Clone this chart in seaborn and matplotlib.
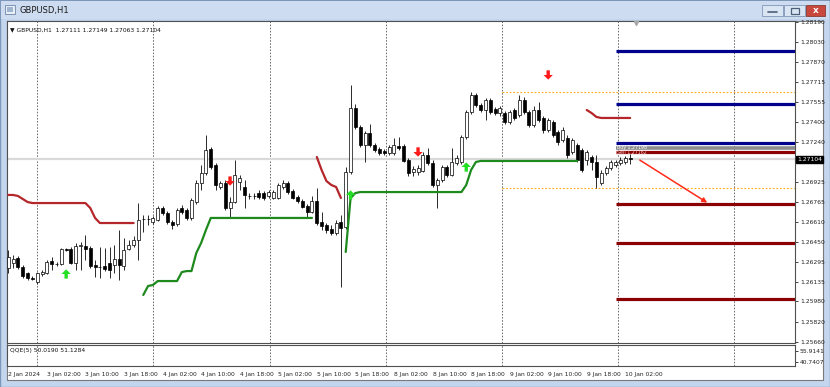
import numpy as np
import pandas as pd
import matplotlib
matplotlib.use("Agg")
import matplotlib.pyplot as plt
import seaborn as sns
from matplotlib.patches import Rectangle
from matplotlib.path import Path
from matplotlib.transforms import blended_transform_factory

# ---------------- data (GBPUSD H1) ----------------
open_ = [1.26244, 1.26284, 1.26323, 1.26252, 1.26205, 1.26165, 1.26133, 1.26197, 1.26205, 1.26299,
         1.26276, 1.26276, 1.26394, 1.26394, 1.26284, 1.26422, 1.26418, 1.26402, 1.26268, 1.26252,
         1.26260, 1.26284, 1.26268, 1.26315, 1.26260, 1.26394, 1.26426, 1.26466, 1.26632, 1.26628,
         1.26608, 1.26624, 1.26719, 1.26679, 1.26608, 1.26592, 1.26719, 1.26703, 1.26640, 1.26766,
         1.26917, 1.26996, 1.27185, 1.27059, 1.26885, 1.26917, 1.26719, 1.26766, 1.26924, 1.26885,
         1.26814, 1.26810, 1.26837, 1.26837, 1.26814, 1.26798, 1.26798, 1.26885, 1.26917, 1.26853,
         1.26806, 1.26774, 1.26735, 1.26687, 1.26774, 1.26608, 1.26584, 1.26553, 1.26521, 1.26608,
         1.26568, 1.27004, 1.27510, 1.27359, 1.27217, 1.27312, 1.27217, 1.27185, 1.27170, 1.27154,
         1.27154, 1.27209, 1.27209, 1.27098, 1.27004, 1.27004, 1.27011, 1.27138, 1.27075, 1.26901,
         1.26940, 1.27043, 1.26980, 1.27075, 1.27083, 1.27280, 1.27478, 1.27613, 1.27533, 1.27494,
         1.27573, 1.27502, 1.27470, 1.27470, 1.27399, 1.27494, 1.27454, 1.27573, 1.27478, 1.27375,
         1.27494, 1.27431, 1.27336, 1.27399, 1.27320, 1.27257, 1.27272, 1.27162, 1.27217, 1.27178,
         1.27098, 1.27122, 1.27083, 1.26917, 1.26996, 1.27035, 1.27059, 1.27075, 1.27083, 1.27111]
high = [1.26387, 1.26347, 1.26339, 1.26268, 1.26212, 1.26181, 1.26212, 1.26228, 1.26307, 1.26331,
        1.26291, 1.26402, 1.26402, 1.26410, 1.26442, 1.26450, 1.26505, 1.26418, 1.26307, 1.26410,
        1.26402, 1.26410, 1.26426, 1.26545, 1.26481, 1.26466, 1.26497, 1.26758, 1.26663, 1.26663,
        1.26655, 1.26735, 1.26735, 1.26695, 1.26624, 1.26719, 1.26742, 1.26719, 1.26798, 1.26940,
        1.27059, 1.27296, 1.27201, 1.27075, 1.26932, 1.26940, 1.26806, 1.27098, 1.26980, 1.26940,
        1.26837, 1.26837, 1.26861, 1.26853, 1.26861, 1.26861, 1.26917, 1.26940, 1.26932, 1.26869,
        1.26822, 1.26790, 1.26750, 1.26814, 1.26877, 1.26687, 1.26600, 1.26584, 1.26624, 1.26663,
        1.27043, 1.27692, 1.27541, 1.27375, 1.27328, 1.27383, 1.27233, 1.27201, 1.27185, 1.27217,
        1.27272, 1.27280, 1.27225, 1.27114, 1.27051, 1.27059, 1.27162, 1.27193, 1.27098, 1.26956,
        1.27059, 1.27059, 1.27193, 1.27138, 1.27296, 1.27494, 1.27636, 1.27628, 1.27549, 1.27589,
        1.27589, 1.27518, 1.27526, 1.27486, 1.27494, 1.27510, 1.27613, 1.27597, 1.27494, 1.27526,
        1.27557, 1.27446, 1.27431, 1.27415, 1.27336, 1.27359, 1.27296, 1.27272, 1.27233, 1.27193,
        1.27178, 1.27138, 1.27138, 1.27019, 1.27051, 1.27098, 1.27098, 1.27122, 1.27130, 1.27149]
low = [1.26205, 1.26244, 1.26236, 1.26165, 1.26149, 1.26149, 1.26118, 1.26181, 1.26197, 1.26228,
       1.26260, 1.26268, 1.26379, 1.26276, 1.26228, 1.26228, 1.26307, 1.26244, 1.26173, 1.26165,
       1.26220, 1.26165, 1.26205, 1.26149, 1.26228, 1.26387, 1.26410, 1.26307, 1.26529, 1.26584,
       1.26592, 1.26616, 1.26663, 1.26592, 1.26553, 1.26576, 1.26671, 1.26624, 1.26624, 1.26750,
       1.26861, 1.26980, 1.27027, 1.26861, 1.26869, 1.26703, 1.26640, 1.26758, 1.26861, 1.26719,
       1.26790, 1.26790, 1.26790, 1.26782, 1.26798, 1.26790, 1.26790, 1.26869, 1.26830, 1.26790,
       1.26758, 1.26719, 1.26640, 1.26679, 1.26584, 1.26545, 1.26521, 1.26505, 1.26505, 1.26094,
       1.26553, 1.26988, 1.27344, 1.27201, 1.27083, 1.27201, 1.27162, 1.27138, 1.27138, 1.27138,
       1.27138, 1.27178, 1.27083, 1.26972, 1.26972, 1.26980, 1.27004, 1.27059, 1.26885, 1.26719,
       1.26924, 1.26964, 1.26972, 1.27059, 1.27067, 1.27265, 1.27462, 1.27518, 1.27478, 1.27415,
       1.27462, 1.27454, 1.27446, 1.27383, 1.27383, 1.27415, 1.27439, 1.27462, 1.27359, 1.27359,
       1.27399, 1.27312, 1.27320, 1.27280, 1.27217, 1.27241, 1.27114, 1.27146, 1.27083, 1.27004,
       1.27059, 1.27019, 1.26877, 1.26901, 1.26980, 1.27019, 1.27043, 1.27059, 1.27067, 1.27063]
close = [1.26331, 1.26315, 1.26252, 1.26181, 1.26165, 1.26157, 1.26205, 1.26212, 1.26291, 1.26276,
         1.26278, 1.26394, 1.26390, 1.26284, 1.26418, 1.26426, 1.26394, 1.26260, 1.26252, 1.26256,
         1.26236, 1.26228, 1.26315, 1.26268, 1.26387, 1.26426, 1.26466, 1.26624, 1.26628, 1.26632,
         1.26640, 1.26719, 1.26679, 1.26608, 1.26584, 1.26703, 1.26687, 1.26640, 1.26782, 1.26917,
         1.26996, 1.27178, 1.27043, 1.26901, 1.26917, 1.26719, 1.26766, 1.26980, 1.26956, 1.26822,
         1.26810, 1.26814, 1.26806, 1.26798, 1.26845, 1.26845, 1.26901, 1.26917, 1.26845, 1.26798,
         1.26774, 1.26727, 1.26687, 1.26774, 1.26600, 1.26576, 1.26545, 1.26521, 1.26600, 1.26561,
         1.27004, 1.27510, 1.27359, 1.27217, 1.27312, 1.27217, 1.27178, 1.27154, 1.27154, 1.27201,
         1.27217, 1.27193, 1.27091, 1.26996, 1.27027, 1.27035, 1.27138, 1.27075, 1.26901, 1.26940,
         1.27043, 1.26980, 1.27083, 1.27114, 1.27280, 1.27478, 1.27613, 1.27533, 1.27494, 1.27573,
         1.27478, 1.27470, 1.27510, 1.27399, 1.27478, 1.27431, 1.27573, 1.27478, 1.27375, 1.27494,
         1.27415, 1.27336, 1.27415, 1.27296, 1.27241, 1.27336, 1.27138, 1.27257, 1.27098, 1.27019,
         1.27162, 1.27083, 1.26964, 1.26996, 1.27035, 1.27083, 1.27083, 1.27098, 1.27114, 1.27104]

# trailing-stop indicator segments (start bar, values)
red1_start = 0
red1 = [1.26822, 1.26822, 1.26814, 1.26790, 1.26766] + [1.26758] * 12 + [1.26719, 1.26640] + [1.26600] * 8
red2_start = 64
red2 = [1.27122, 1.27019, 1.26932, 1.26901, 1.26885, 1.26798]
red3_start = 120
red3 = [1.27494, 1.27470, 1.27439] + [1.27431] * 7
green1_start = 28
green1 = [1.26031, 1.26102, 1.26110] + [1.26141] * 5 + [1.26212, 1.26220, 1.26220, 1.26363,
          1.26442, 1.26545, 1.26640] + [1.26640] * 21
green2_start = 70
green2 = [1.26371, 1.26798, 1.26837] + [1.26845] * 22 + [1.26901, 1.27019, 1.27083] + [1.27091] * 21

# signal arrows
up_bars = [12, 71, 95]
up_prices = [1.26197, 1.26822, 1.27043]
down_bars = [46, 85, 112]
down_prices = [1.26932, 1.27162, 1.27771]

# horizontal levels on the right
level_start_bar = 126
blue_levels = [1.27961, 1.27541, 1.27233]
grey_level = 1.27193
darkred_levels = [1.27158, 1.26750, 1.26442, 1.25999]
orange_start_bar = 102.4
orange_levels = [1.27637, 1.26877]
bid_price = 1.27104
trend_from = (131, 1.27098)
trend_to = (145, 1.26761)

ytick_vals = [1.28190, 1.28030, 1.27870, 1.27715, 1.27555, 1.27400, 1.27240, 1.26925, 1.26765,
              1.26610, 1.26450, 1.26295, 1.26135, 1.25980, 1.25820, 1.25660]
xtick_labels = ["2 Jan 2024", "3 Jan 02:00", "3 Jan 10:00", "3 Jan 18:00", "4 Jan 02:00",
                "4 Jan 10:00", "4 Jan 18:00", "5 Jan 02:00", "5 Jan 10:00", "5 Jan 18:00",
                "8 Jan 02:00", "8 Jan 10:00", "8 Jan 18:00", "9 Jan 02:00", "9 Jan 10:00",
                "9 Jan 18:00", "10 Jan 02:00"]
qqe_ticks = [55.9141, 40.7407]

# ---------------- style ----------------
sns.set_style("white")
plt.rcParams["font.family"] = ["DejaVu Sans"]

W, H = 830, 387
fig = plt.figure(figsize=(W / 100, H / 100), dpi=100)
frame_col = "#c3d6ee"
fig.patch.set_facecolor(frame_col)

# window chrome (pixel coordinates)
bg = fig.add_axes([0, 0, 1, 1], zorder=-10)
bg.set_xlim(0, W); bg.set_ylim(H, 0); bg.axis("off")
bg.add_patch(Rectangle((0, 0), W, H, facecolor=frame_col, edgecolor="#7d97b8", lw=1))
bg.add_patch(Rectangle((1, 1), W - 2, 18, facecolor="#cddcf0", edgecolor="none"))
bg.add_patch(Rectangle((7, 21), 816, 359, facecolor="white", edgecolor="#7a7a7a", lw=0.8))
bg.add_patch(Rectangle((5, 5), 10, 9, facecolor="#e8eef6", edgecolor="#6f86a6", lw=0.6))
bg.add_patch(Rectangle((7, 7), 6, 5, facecolor="#9fb4cf", edgecolor="none"))
bg.text(19, 10.5, "GBPUSD,H1", fontsize=6, va="center", ha="left", color="#1b1b1b")
bg.add_patch(Rectangle((762, 5), 21, 11, facecolor="#d9e5f3", edgecolor="#7f96b5", lw=0.6))
bg.add_patch(Rectangle((784, 5), 21, 11, facecolor="#d9e5f3", edgecolor="#7f96b5", lw=0.6))
bg.add_patch(Rectangle((806, 5), 19, 11, facecolor="#c9483e", edgecolor="#8a3a34", lw=0.6))
bg.plot([768, 777], [12, 12], color="#4d5f78", lw=1.2)
bg.add_patch(Rectangle((790.5, 8), 8, 5.5, facecolor="none", edgecolor="#4d5f78", lw=0.9))
bg.text(815.5, 10.5, "x", fontsize=6.5, color="white", ha="center", va="center", fontweight="bold")

# main chart axes
def fx(px):
    return px / W

def fy(py):
    return 1 - py / H

ax = fig.add_axes([fx(7), fy(343), fx(795) - fx(7), fy(21) - fy(343)])
sub = fig.add_axes([fx(7), fy(366), fx(795) - fx(7), fy(345) - fy(366)], sharex=ax)

xmin, xmax = -0.27, 163.2
ax.set_xlim(xmin, xmax)
ax.set_ylim(1.25651, 1.28198)

n = len(close)
bars = np.arange(n)
df = pd.DataFrame({"bar": bars, "open": open_, "high": high, "low": low, "close": close})

# grid
grid_x = [6.0 + 24.1 * k for k in range(7)]
for g in grid_x:
    ax.axvline(g, color="#6a6a6a", lw=0.7, ls=(0, (1.6, 1.6)), zorder=0.5)
    sub.axvline(g, color="#6a6a6a", lw=0.7, ls=(0, (1.6, 1.6)), zorder=0.5)

# bid line
ax.axhline(bid_price, color="#d9d9d9", lw=1.6, zorder=0.8)

# candles
ax.vlines(df["bar"], df["low"], df["high"], color="#1a1a1a", lw=0.65, zorder=2)
up = df["close"] >= df["open"]
body_h = (df["close"] - df["open"]).abs().clip(lower=0.000015)
body_b = df[["open", "close"]].min(axis=1)
ax.bar(df["bar"], body_h, bottom=body_b, width=0.62,
       color=np.where(up, "white", "black"), edgecolor="black", lw=0.5, zorder=3)

# trailing stop lines
for start, vals, col in [(red1_start, red1, "#b5262a"), (red2_start, red2, "#b5262a"),
                         (red3_start, red3, "#b5262a"), (green1_start, green1, "#1e8a1e"),
                         (green2_start, green2, "#1e8a1e")]:
    xs = np.arange(start, start + len(vals))
    sns.lineplot(x=xs, y=vals, ax=ax, color=col, lw=1.6, estimator=None, sort=False, zorder=4)

# arrow markers
down_arrow = Path([(-0.18, 0.5), (0.18, 0.5), (0.18, 0.0), (0.5, 0.0), (0.0, -0.5),
                   (-0.5, 0.0), (-0.18, 0.0), (-0.18, 0.5)],
                  [Path.MOVETO] + [Path.LINETO] * 6 + [Path.CLOSEPOLY])
up_arrow = Path([(x, -y) for x, y in down_arrow.vertices], down_arrow.codes)
sns.scatterplot(x=up_bars, y=up_prices, ax=ax, marker=up_arrow, s=45, color="#22e022",
                edgecolor="none", zorder=6)
sns.scatterplot(x=down_bars, y=down_prices, ax=ax, marker=down_arrow, s=45, color="#ff1a1a",
                edgecolor="none", zorder=6)

# orange dotted levels
for lv in orange_levels:
    ax.hlines(lv, orange_start_bar, xmax, color="#ffae1a", lw=0.8, ls=(0, (1.6, 1.6)), zorder=1)

# right-side levels
for lv in blue_levels:
    ax.hlines(lv, level_start_bar, xmax, color="#00008c", lw=2.3, zorder=5)
ax.hlines(grey_level, level_start_bar, xmax, color="#8c8c8c", lw=2.6, zorder=5)
for lv in darkred_levels:
    ax.hlines(lv, level_start_bar, xmax, color="#8b0000", lw=2.3, zorder=5)
ax.text(level_start_bar + 0.3, grey_level + 0.00004, "Buy 1.27198", fontsize=3.4, color="white",
        va="center", ha="left", zorder=7)
ax.text(level_start_bar + 0.3, darkred_levels[0] + 0.00002, "Sell 1.27162", fontsize=3.4,
        color="#f2d0d0", va="center", ha="left", zorder=7)

# red trend arrow
ax.annotate("", xy=trend_to, xytext=trend_from,
            arrowprops=dict(arrowstyle="-|>", color="#ff2a1a", lw=1.1, mutation_scale=7,
                            shrinkA=0, shrinkB=0), zorder=6)

# chart shift marker
ax.plot([130.2], [1.28180], marker="v", color="#a8a8a8", ms=3, clip_on=False, zorder=6)

# header text
ax.text(0.004, 0.982, "\u25bc GBPUSD,H1  1.27111 1.27149 1.27063 1.27104", transform=ax.transAxes,
        fontsize=4.3, va="top", ha="left", color="#111111")

# y axis on right
ax.yaxis.tick_right()
ax.set_yticks(ytick_vals)
ax.set_yticklabels([f"{v:.5f}" for v in ytick_vals])
ax.tick_params(axis="y", labelsize=4.3, length=2, width=0.6, pad=1.5, colors="#222222")
ax.tick_params(axis="x", bottom=False, labelbottom=False)
ax.set_xlabel(""); ax.set_ylabel("")

# price tag
tr = blended_transform_factory(ax.transAxes, ax.transData)
ax.text(1.0025, bid_price, "1.27104", transform=tr, fontsize=4.3, color="white", va="center",
        ha="left", zorder=8, clip_on=False,
        bbox=dict(boxstyle="square,pad=0.15", facecolor="black", edgecolor="black"))

for a in (ax, sub):
    a.set_facecolor("white")
    for s in a.spines.values():
        s.set_color("#505050")
        s.set_linewidth(0.8)

# indicator sub-window
sub.set_ylim(35.22, 64.19)
sub.yaxis.tick_right()
sub.set_yticks(qqe_ticks)
sub.set_yticklabels([f"{v:.4f}" for v in qqe_ticks])
sub.tick_params(axis="y", labelsize=4.3, length=2, width=0.6, pad=1.5, colors="#222222")
sub.text(0.004, 0.86, "QQE(5) 50.0190 51.1284", transform=sub.transAxes, fontsize=4.3,
         va="top", ha="left", color="#111111")
xt = [8 * k for k in range(len(xtick_labels))]
sub.set_xticks(xt)
sub.set_xticklabels(xtick_labels, ha="left")
sub.tick_params(axis="x", labelsize=4.3, length=2, width=0.6, pad=2.5, colors="#222222")
sub.set_xlim(xmin, xmax)

fig.savefig("out.png", dpi=100, facecolor=fig.get_facecolor())
